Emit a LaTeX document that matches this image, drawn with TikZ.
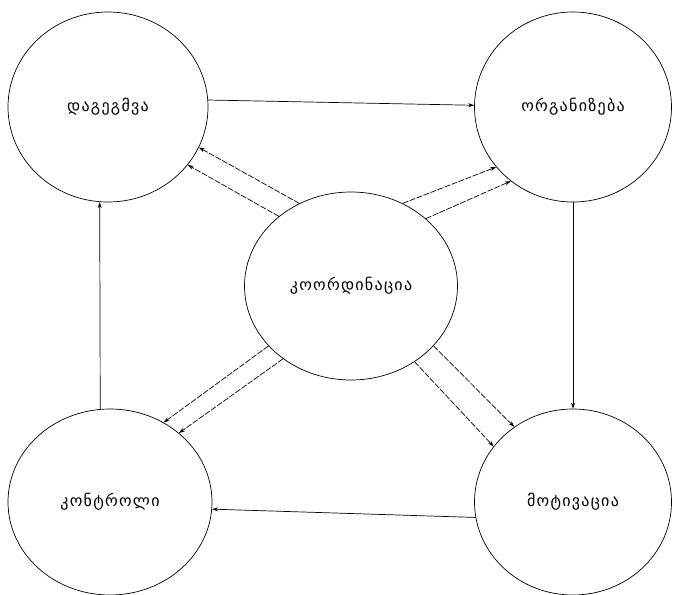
\documentclass[tikz,border=0pt]{standalone}
\usepackage{fontspec}
\newfontfamily\geofont[LetterSpace=8]{DejaVu Sans}
\usetikzlibrary{shapes.geometric,arrows.meta}
\begin{document}
\begin{tikzpicture}[x=1pt,y=-1pt,
  func/.style={ellipse,draw,line width=0.7pt,inner sep=0pt,
    font=\geofont\fontsize{16}{18}\selectfont},
  flow/.style={line width=0.7pt,-{Stealth[length=6pt,width=4pt]}},
  link/.style={flow,dash pattern=on 6pt off 1.5pt}]
\useasboundingbox (0,0) rectangle (673,595);
% management functions
\node[func,minimum width=200pt,minimum height=190pt] (plan) at (108,107) {დაგეგმვა};
\node[func,minimum width=197pt,minimum height=190pt] (org)  at (573,107) {ორგანიზება};
\node[func,minimum width=213pt,minimum height=188pt] (coord) at (351,286) {კოორდინაცია};
\node[func,minimum width=204pt,minimum height=186pt] (ctrl) at (110,502) {კონტროლი};
\node[func,minimum width=197pt,minimum height=186pt] (motiv) at (573,502) {მოტივაცია};
% outer cycle
\draw[flow] (plan.4) -- (org.179);
\draw[flow] (org.south) -- (motiv.north);
\draw[flow] (motiv.189) -- (ctrl.-4);
\draw[flow] (ctrl.96) -- (plan.265);
% coordination links, two per function
\draw[link] (coord.122) -- (plan.-24);
\draw[link] (coord.136) -- (plan.-36);
\draw[link] (coord.58) -- (org.218);
\draw[link] (coord.42) -- (org.230);
\draw[link] (coord.216) -- (ctrl.56);
\draw[link] (coord.227) -- (ctrl.45);
\draw[link] (coord.-36) -- (motiv.128);
\draw[link] (coord.-50) -- (motiv.145);
\end{tikzpicture}
\end{document}
